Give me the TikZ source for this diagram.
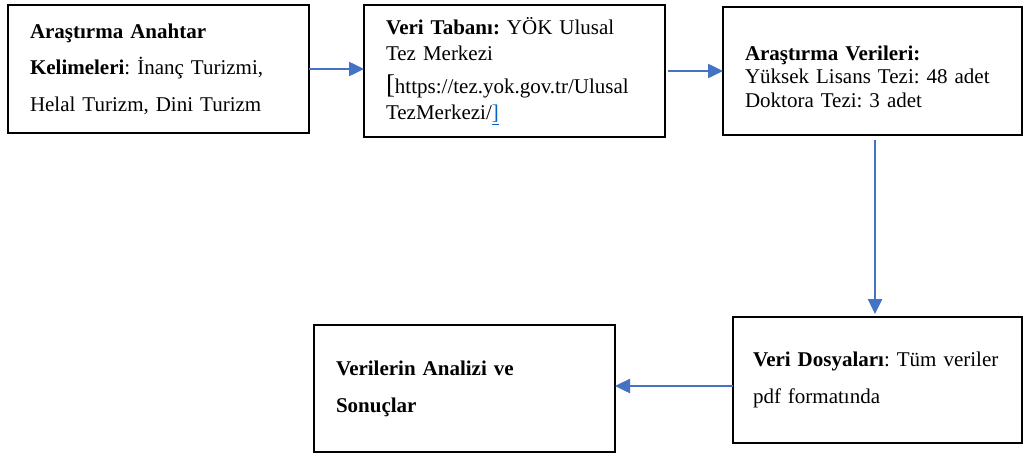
\documentclass[tikz,border=0pt]{standalone}
\usepackage{fontspec}
\setmainfont{Liberation Serif}
\usetikzlibrary{positioning,arrows.meta}
\definecolor{flowblue}{HTML}{4472C4}
\definecolor{linkblue}{HTML}{0563C1}

\begin{document}
\frenchspacing
\begin{tikzpicture}[->,
    >={Triangle[length=15pt,width=14pt]},
    x=1pt, y=1pt,
    box/.style={draw, line width=2pt, rectangle, align=left, outer sep=0pt,
        inner xsep=22pt, inner ysep=0pt},
    flow/.style={flowblue, line width=2.5pt}]
    \useasboundingbox (0,0) rectangle (1025,-455);
    \node[box, minimum width=301pt, minimum height=128pt, text width=257pt,
        font=\fontsize{21}{36.5}\selectfont] (K) at (158.5,-69)
        {\textbf{Araştırma Anahtar}\\\textbf{Kelimeleri}: İnanç Turizmi,\\Helal Turizm, Dini Turizm};
    \node[box, minimum width=301pt, minimum height=132pt, text width=257pt,
        font=\fontsize{21}{26.5}\selectfont] (T) [right=55pt of K, yshift=-2pt]
        {\textbf{Veri Tabanı:} YÖK Ulusal\\Tez Merkezi\\[6pt]{\fontsize{27}{27}\selectfont[}https://tez.yok.gov.tr/Ulusal\\TezMerkezi/\textcolor{linkblue}{\underline{]}}};
    \node[box, minimum width=299pt, minimum height=128pt, text width=255pt,
        font=\fontsize{21}{23.5}\selectfont] (A) [right=58pt of T]
        {\rule{0pt}{26pt}\textbf{Araştırma Verileri:}\\Yüksek Lisans Tezi: 48 adet\\Doktora Tezi: 3 adet};
    \node[box, minimum width=289pt, minimum height=126pt, text width=253pt,
        inner xsep=18pt, font=\fontsize{21}{37}\selectfont] (D) [below=182pt of A, xshift=5pt]
        {\hspace*{2pt}\textbf{Veri Dosyaları}: Tüm veriler\\\hspace*{2pt}pdf formatında};
    \node[box, minimum width=301pt, minimum height=127pt, text width=257pt,
        font=\fontsize{21}{37}\selectfont] (S) [left=118pt of D, yshift=-8.5pt]
        {\textbf{Verilerin Analizi ve}\\\textbf{Sonuçlar}};
    % connectors
    \draw[flow] (K.east) -- (K.east -| T.west);
    \draw[flow, shorten <=3pt] (T.east) -- (A.west);
    \draw[flow, shorten <=5pt, shorten >=3pt] ([xshift=2.5pt]A.south) -- ([xshift=2.5pt]A.south |- D.north);
    \draw[flow] ([yshift=-6pt]D.west) -- ([yshift=-6pt]D.west -| S.east);
\end{tikzpicture}
\end{document}
